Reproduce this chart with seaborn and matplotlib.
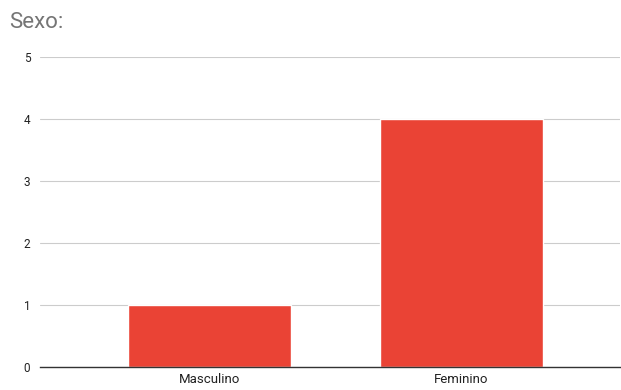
import matplotlib
matplotlib.use("Agg")
import matplotlib.pyplot as plt
import seaborn as sns
import pandas as pd

categories = ["Masculino", "Feminino"]
counts = [1, 4]
y_ticks = [0, 1, 2, 3, 4, 5]

sns.set_theme(style="white")
plt.rcParams["font.family"] = ["Roboto", "DejaVu Sans"]

df = pd.DataFrame({"sexo": categories, "n": counts})

fig = plt.figure(figsize=(6.21, 3.90), dpi=100)
ax = fig.add_axes([40 / 621, 1 - 367 / 390, 580 / 621, 310 / 390])

sns.barplot(data=df, x="sexo", y="n", ax=ax, color="#ea4335", width=0.647,
            saturation=1)

ax.set_ylim(0, 5)
ax.set_xlim(-0.673, 1.629)
ax.set_yticks(y_ticks)
ax.yaxis.grid(True, color="#cccccc", linewidth=0.8)
ax.set_axisbelow(True)
for s in ["top", "right", "left"]:
    ax.spines[s].set_visible(False)
ax.spines["bottom"].set_color("#333333")
ax.spines["bottom"].set_linewidth(1)
ax.tick_params(axis="y", length=0, labelsize=8.5, colors="#222222", pad=7)
ax.tick_params(axis="x", length=0, labelsize=9.5, colors="#222222", pad=4)
ax.set_xlabel("")
ax.set_ylabel("")

fig.text(9 / 621, 1 - 22 / 390, "Sexo:", fontsize=16, color="#757575",
         va="center", ha="left")

fig.savefig("out.png", dpi=100)
